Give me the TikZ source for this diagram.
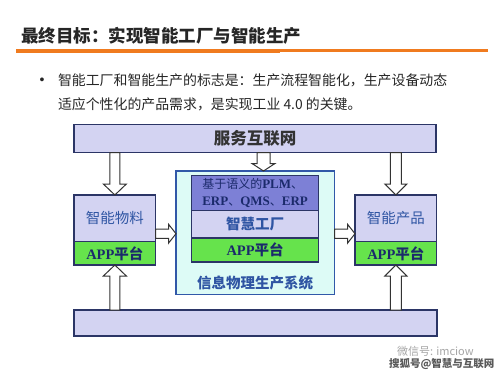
\documentclass[tikz,border=0pt]{standalone}
\usepackage{fontspec}
\setmainfont{Noto Sans CJK SC}
\newfontfamily\serifbf{Liberation Serif}
\newfontfamily\bulletfont{Liberation Sans}
\usetikzlibrary{calc, positioning}

\definecolor{titleorange}{HTML}{F07B1F}
\definecolor{barfill}{HTML}{D3D3F2}
\definecolor{boxline}{HTML}{2B3566}
\definecolor{appgreen}{HTML}{66E34C}
\definecolor{semfill}{HTML}{7D80D6}
\definecolor{cpsfill}{HTML}{DDFBF6}
\definecolor{cpsline}{HTML}{3158A8}
\definecolor{textblue}{HTML}{2F55A3}
\definecolor{appnavy}{HTML}{1B2A6B}

% hollow block arrow: from, to, angle, shaft half width, head half width, head length
\newcommand{\blockarrow}[6]{%
  \draw[blockarr] let \p1=($(#2)-(#1)$), \n1={veclen(\x1,\y1)} in
    [shift={(#1)}, rotate=#3]
    (0pt,-#4 pt) -- (\n1-#6 pt,-#4 pt) -- (\n1-#6 pt,-#5 pt) -- (\n1,0pt)
    -- (\n1-#6 pt,#5 pt) -- (\n1-#6 pt,#4 pt) -- (0pt,#4 pt) -- cycle;}

\begin{document}
\begin{tikzpicture}[x=1pt, y=-1pt,
    every node/.style={inner sep=0pt, outer sep=0pt},
    bar/.style={draw=boxline, line width=1.1pt, fill=barfill, minimum width=362pt, minimum height=28.4pt},
    sidebox/.style={draw=boxline, line width=1.1pt, fill=barfill, minimum width=81.7pt, minimum height=46.7pt, text=textblue, font=\fontsize{14.5}{16}\selectfont},
    appbox/.style={draw=boxline, line width=1.1pt, fill=appgreen, minimum height=23.3pt, text=appnavy, font=\fontsize{14.5}{16}\selectfont\bfseries},
    blockarr/.style={draw=black!80, line width=1pt, fill=white, line join=miter}
  ]
  \fill[white] (0,0) rectangle (500,375);
  \useasboundingbox (0,0) rectangle (500,375);

  % heading
  \node[anchor=base west, font=\fontsize{17.5}{20}\selectfont\bfseries, text=black!85] (title) at (21,42.6) {最终目标：实现智能工厂与智能生产};
  \draw[titleorange, line width=4.5pt] (16,51) -- (280,51);
  \draw[titleorange, line width=2.5pt] (280,50.3) -- (488,50.3);

  \node[anchor=base, font=\bulletfont\fontsize{14}{16}\selectfont, text=black!85] (dot) at (42,84.5) {•};
  \node[anchor=base west, font=\fontsize{13.9}{16}\selectfont, text=black!85] (line1) at (58,85.3) {智能工厂和智能生产的标志是：生产流程智能化，生产设备动态};
  \node[anchor=base west, font=\fontsize{13.9}{16}\selectfont, text=black!85] (line2) at (58,109.3) {适应个性化的产品需求，是实现工业 4.0 的关键。};

  % boxes
  \node[bar, font=\fontsize{16.5}{18}\selectfont\bfseries, text=black!80] (net) at (255,138.5) {服务互联网};
  \node[bar, minimum width=363pt, minimum height=26pt] (base) at (255.5,323) {};

  \node[sidebox] (mat) at (114.85,218.35) {智能物料};
  \node[appbox, below=0pt of mat, minimum width=81.7pt] (matapp) {{\serifbf APP}平台};
  \node[sidebox] (prod) at (395.85,218.35) {智能产品};
  \node[appbox, below=0pt of prod, minimum width=81.7pt] (prodapp) {{\serifbf APP}平台};

  \node[draw=cpsline, line width=1.1pt, fill=cpsfill, minimum width=158.5pt, minimum height=123.3pt] (cps) at (255.25,232.65) {};
  \node[draw=boxline, line width=1pt, fill=semfill, minimum width=126.8pt, minimum height=35.5pt, align=left, text=appnavy, font=\fontsize{12}{17.5}\selectfont] (sem) at (255.1,192.75) {基于语义的{\serifbf\bfseries\fontsize{13}{17.5}\selectfont PLM}、\\{\serifbf\bfseries\fontsize{13}{17.5}\selectfont ERP}、{\serifbf\bfseries\fontsize{13}{17.5}\selectfont QMS}、{\serifbf\bfseries\fontsize{13}{17.5}\selectfont ERP}};
  \node[sidebox, below=0pt of sem, minimum width=126.8pt, minimum height=27.5pt, font=\fontsize{14.5}{16}\selectfont\bfseries] (factory) {智慧工厂};
  \node[appbox, below=0pt of factory, minimum width=126.8pt, minimum height=24pt] (cpsapp) {{\serifbf APP}平台};
  \node[font=\fontsize{14.5}{16}\selectfont\bfseries, text=textblue] (cpsname) at (255,283) {信息物理生产系统};

  % arrows
  \coordinate (mid) at (263.5,171);
  \coordinate (matout) at ($(matapp.north east)+(0,-8)$);
  \coordinate (prodin) at ($(prodapp.north west)+(0,-8)$);
  \blockarrow{net.south -| mat}{mat.north}{-90}{5}{11.5}{11}
  \blockarrow{net.south -| prod}{prod.north}{-90}{5.5}{11}{11}
  \blockarrow{net.south -| mid}{mid}{-90}{6.5}{11.5}{7.5}
  \blockarrow{matout}{matout -| cps.west}{0}{4.7}{9.5}{7.5}
  \blockarrow{prodin -| cps.east}{prodin}{0}{4.7}{9.5}{7.5}
  \blockarrow{base.north -| mat}{matapp.south}{90}{5}{11.5}{11}
  \blockarrow{base.north -| prod}{prodapp.south}{90}{5.5}{11}{11}

  % watermark
  \node[anchor=base west, font=\fontsize{11}{12}\selectfont, text=black!35] (wechat) at (397,355) {微信号: imciow};
  \node[anchor=base west, font=\fontsize{10.5}{12}\selectfont\bfseries, text=black!65] (sohu) at (389,367) {搜狐号@智慧与互联网};
\end{tikzpicture}
\end{document}
